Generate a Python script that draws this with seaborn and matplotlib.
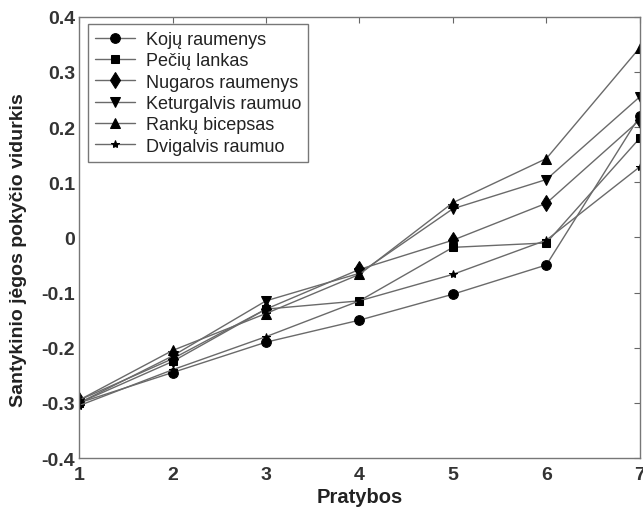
import matplotlib
matplotlib.use("Agg")
import matplotlib.pyplot as plt
import seaborn as sns
import pandas as pd

sessions = [1, 2, 3, 4, 5, 6, 7]
series_names = ["Kojų raumenys", "Pečių lankas", "Nugaros raumenys",
                "Keturgalvis raumuo", "Rankų bicepsas", "Dvigalvis raumuo"]
koju = [-0.300, -0.245, -0.190, -0.150, -0.103, -0.050, 0.220]
peciu = [-0.300, -0.225, -0.130, -0.115, -0.018, -0.010, 0.180]
nugaros = [-0.295, -0.220, -0.130, -0.058, -0.005, 0.062, 0.213]
keturgalvis = [-0.300, -0.215, -0.115, -0.065, 0.052, 0.105, 0.255]
ranku = [-0.295, -0.205, -0.138, -0.067, 0.063, 0.143, 0.344]
dvigalvis = [-0.305, -0.240, -0.180, -0.115, -0.067, -0.005, 0.128]
values = [koju, peciu, nugaros, keturgalvis, ranku, dvigalvis]

markers = ["o", "s", "d", "v", "^", "*"]
msizes = [7, 6, 8, 7, 7, 6]

sns.set_theme(style="white")
plt.rcParams["font.family"] = ["Liberation Sans", "DejaVu Sans"]

fig = plt.figure(figsize=(6.43, 5.10), dpi=100)
ax = fig.add_axes([0.123, 0.100, 0.872, 0.865])

for name, vals, m, ms in zip(series_names, values, markers, msizes):
    df = pd.DataFrame({"x": sessions, "y": vals})
    sns.lineplot(data=df, x="x", y="y", ax=ax, color="#6a6a6a", linewidth=1.0,
                 marker=m, markersize=ms, markerfacecolor="black",
                 markeredgecolor="black", label=name)

ax.set_xlim(1, 7)
ax.set_ylim(-0.4, 0.4)
ax.set_xticks(sessions)
yt = [-0.4, -0.3, -0.2, -0.1, 0, 0.1, 0.2, 0.3, 0.4]
ax.set_yticks(yt)
ax.set_yticklabels(["-0.4", "-0.3", "-0.2", "-0.1", "0", "0.1", "0.2", "0.3", "0.4"])
ax.tick_params(direction="in", length=4, width=0.8, color="#666666",
               top=True, right=True, labelsize=14, pad=3)
ax.tick_params(axis="x", pad=6)
for lab in ax.get_xticklabels() + ax.get_yticklabels():
    lab.set_fontweight("bold")
    lab.set_color("#333333")
for sp in ax.spines.values():
    sp.set_color("#777777")
    sp.set_linewidth(1.0)

ax.set_xlabel("Pratybos", fontsize=14.5, fontweight="bold", color="#222222")
ax.set_ylabel("Santykinio jėgos pokyčio vidurkis", fontsize=14, fontweight="bold",
              color="#222222")
ax.xaxis.set_label_coords(0.5, -0.066)
ax.yaxis.set_label_coords(-0.093, 0.474)

leg = ax.legend(loc="upper left", bbox_to_anchor=(0.016, 0.984), fontsize=13,
                frameon=True, fancybox=False, edgecolor="#555555",
                handlelength=2.2, labelspacing=0.24, borderpad=0.4,
                handletextpad=0.6, borderaxespad=0.0)
leg.get_frame().set_linewidth(1.0)
for t in leg.get_texts():
    t.set_color("#222222")

fig.savefig("out.png", dpi=100)
